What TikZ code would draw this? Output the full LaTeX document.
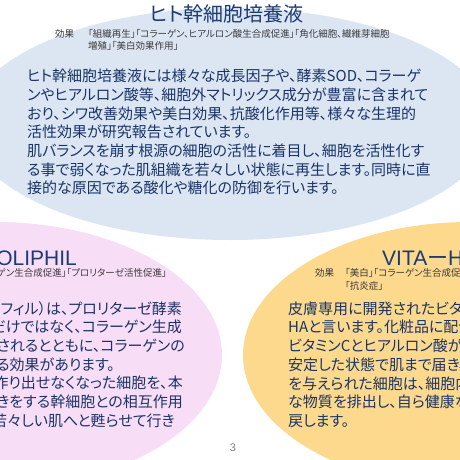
\documentclass[tikz,border=0pt]{standalone}
\usepackage{fontspec}
\newfontfamily\jp{Noto Sans CJK JP}[RawFeature={+palt}]
\newfontfamily\lat{Liberation Sans}
\definecolor{blueE}{HTML}{DCE6F3}
\definecolor{pinkE}{HTML}{F8DDF6}
\definecolor{orangeE}{HTML}{FCD98C}
\definecolor{navy}{HTML}{1A3468}
\definecolor{titlenavy}{HTML}{1C3A74}
\definecolor{efftxt}{HTML}{3A3A3A}
\begin{document}
\begin{tikzpicture}[x=1pt,y=-1pt,
  titletxt/.style={font={\jp\fontsize{20pt}{20pt}\selectfont}, text=titlenavy, inner sep=0pt},
  lattitle/.style={font={\lat\fontsize{21pt}{21pt}\selectfont}, text=titlenavy, inner sep=0pt},
  efftext/.style={font={\jp\fontsize{9.5pt}{9.5pt}\selectfont}, text=efftxt, inner sep=0pt},
  bodytxt/.style={font={\jp\fontsize{15pt}{15pt}\selectfont}, text=navy, inner sep=0pt},
  pagenum/.style={font={\lat\fontsize{11pt}{11pt}\selectfont}, text=black!50, inner sep=0pt}]
\useasboundingbox (0,0) rectangle (460,460);
\clip (0,0) rectangle (460,460);
\fill[white] (0,0) rectangle (460,460);
% ellipses
\fill[blueE] (230,124) ellipse [x radius=262, y radius=116];
\fill[pinkE] (-5,355) ellipse [x radius=227, y radius=133];
\fill[orangeE] (470,355) ellipse [x radius=227, y radius=133];
% top ellipse
\node[titletxt] (t1) at (227,14) {ヒト幹細胞培養液};
\node[efftext, anchor=west] (t1eff) at (55,34) {効果};
\node[efftext, anchor=west] (t1e1) at (88,34) {「組織再生」「コラーゲン、ヒアルロン酸生合成促進」「角化細胞、繊維芽細胞};
\node[efftext, anchor=west] (t1e2) at (88,45.5) {増殖」「美白効果作用」};
\node[bodytxt, anchor=west] (b1) at (27,76) {ヒト幹細胞培養液には様々な成長因子や、酵素SOD、コラーゲ};
\node[bodytxt, anchor=west] (b2) at (27,94.7) {ンやヒアルロン酸等、細胞外マトリックス成分が豊富に含まれて};
\node[bodytxt, anchor=west] (b3) at (27,113.4) {おり、シワ改善効果や美白効果、抗酸化作用等、様々な生理的};
\node[bodytxt, anchor=west] (b4) at (27,132.1) {活性効果が研究報告されています。};
\node[bodytxt, anchor=west] (b5) at (27,150.8) {肌バランスを崩す根源の細胞の活性に着目し、細胞を活性化す};
\node[bodytxt, anchor=west] (b6) at (27,169.5) {る事で弱くなった肌組織を若々しい状態に再生します。同時に直};
\node[bodytxt, anchor=west] (b7) at (27,188.2) {接的な原因である酸化や糖化の防御を行います。};
% pink ellipse
\node[lattitle, anchor=east] (t2) at (77,258) {PROLIPHIL};
\node[efftext, anchor=east] (t2e) at (167,273) {効果　「コラーゲン生合成促進」「プロリターゼ活性促進」};
\node[bodytxt, anchor=east] (p1) at (182,308.5) {ロリフィル）は、プロリターゼ酵素};
\node[bodytxt, anchor=east] (p2) at (182,327.2) {るだけではなく、コラーゲン生成};
\node[bodytxt, anchor=east] (p3) at (185,345.9) {りされるとともに、コラーゲンの};
\node[bodytxt, anchor=east] (p4) at (115,364.6) {する効果があります。};
\node[bodytxt, anchor=east] (p5) at (183,383.3) {を作り出せなくなった細胞を、本};
\node[bodytxt, anchor=east] (p6) at (183,402) {働きをする幹細胞との相互作用};
\node[bodytxt, anchor=east] (p7) at (175,420.7) {で若々しい肌へと甦らせて行き};
% orange ellipse
\node[lattitle, anchor=west] (t3) at (382,258) {VITA{\jp ー}HA};
\node[efftext, anchor=west] (t3eff) at (315,273) {効果};
\node[efftext, anchor=west] (t3e1) at (345,273) {「美白」「コラーゲン生合成促進」};
\node[efftext, anchor=west] (t3e2) at (345,285.5) {「抗炎症」};
\node[bodytxt, anchor=west] (o1) at (288,308.5) {皮膚専用に開発されたビタミン};
\node[bodytxt, anchor=west] (o2) at (288,327.2) {HAと言います。化粧品に配合};
\node[bodytxt, anchor=west] (o3) at (288,345.9) {ビタミンCとヒアルロン酸が、};
\node[bodytxt, anchor=west] (o4) at (288,364.6) {安定した状態で肌まで届き、};
\node[bodytxt, anchor=west] (o5) at (288,383.3) {を与えられた細胞は、細胞内};
\node[bodytxt, anchor=west] (o6) at (288,402) {な物質を排出し、自ら健康な};
\node[bodytxt, anchor=west] (o7) at (288,420.7) {戻します。};
% page number
\node[pagenum] (pg) at (233,448) {3};
\end{tikzpicture}
\end{document}
